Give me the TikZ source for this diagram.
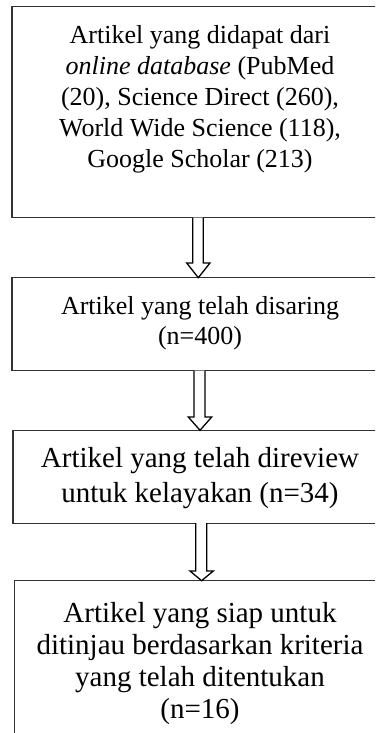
\documentclass[tikz,border=0pt]{standalone}
\usepackage{fontspec}
\setmainfont{Liberation Serif}
\usetikzlibrary{calc}
\begin{document}
\begin{tikzpicture}[x=1pt,y=-1pt,
  box/.style={rectangle, inner sep=0pt, anchor=north west},
  edge/.style={draw=black!80, line width=1.2pt, line join=miter},
  txt/.style={align=center, inner sep=0pt, anchor=north},
  blk/.style={draw=black, line width=1.3pt, fill=white, line join=miter}]
\useasboundingbox (0,0) rectangle (375,733);
\clip (0,0) rectangle (375,733);
% boxes (they run past the right edge of the picture, only three sides show)
\node[box, minimum width=400pt, minimum height=210.8pt] (b1) at (12,6.5) {};
\node[box, minimum width=400pt, minimum height=92.6pt] (b2) at (12,277.7) {};
\node[box, minimum width=400pt, minimum height=92.4pt] (b3) at (13,430.3) {};
\node[box, minimum width=400pt, minimum height=200pt] (b4) at (14.7,580.7) {};
\draw[edge] (b1.north east) -- (b1.north west) -- (b1.south west) -- (b1.south east);
\draw[edge] (b2.north east) -- (b2.north west) -- (b2.south west) -- (b2.south east);
\draw[edge] (b3.north east) -- (b3.north west) -- (b3.south west) -- (b3.south east);
\draw[edge] (b4.north east) -- (b4.north west) -- (b4.south west);
% texts
\node[txt, font=\fontsize{26}{31}\selectfont] (t1) at (200,25)
  {Artikel yang didapat dari\\ \textit{online database} (PubMed\\ (20), Science Direct (260),\\ World Wide Science (118),\\ Google Scholar (213)};
\node[txt, font=\fontsize{26}{30}\selectfont] (t2) at (200,296)
  {Artikel yang telah disaring\\ (n=400)};
\node[txt, font=\fontsize{29}{35}\selectfont] (t3) at (200,447)
  {Artikel yang telah direview\\ untuk kelayakan (n=34)};
\node[txt, font=\fontsize{29}{32}\selectfont] (t4) at (200,602)
  {Artikel yang siap untuk\\ ditinjau berdasarkan kriteria\\ yang telah ditentukan\\ (n=16)};
% block arrows
\draw[blk] let \p1=(b1.south), \p2=(b2.north) in
  (192.7pt,\y1) -- (192.7pt,\y2+14.7pt) -- (186.7pt,\y2+14.7pt) -- (198.3pt,\y2)
  -- (210pt,\y2+14.7pt) -- (203.3pt,\y2+14.7pt) -- (203.3pt,\y1);
\draw[blk] let \p1=(b2.south), \p2=(b3.north) in
  (194pt,\y1) -- (194pt,\y2+13.3pt) -- (188.3pt,\y2+13.3pt) -- (200pt,\y2)
  -- (211.7pt,\y2+13.3pt) -- (205pt,\y2+13.3pt) -- (205pt,\y1);
\draw[blk] let \p1=(b3.south), \p2=(b4.north) in
  (195.7pt,\y1) -- (195.7pt,\y2+9.7pt) -- (190pt,\y2+9.7pt) -- (201.6pt,\y2)
  -- (213.3pt,\y2+9.7pt) -- (206.7pt,\y2+9.7pt) -- (206.7pt,\y1);
\end{tikzpicture}
\end{document}
